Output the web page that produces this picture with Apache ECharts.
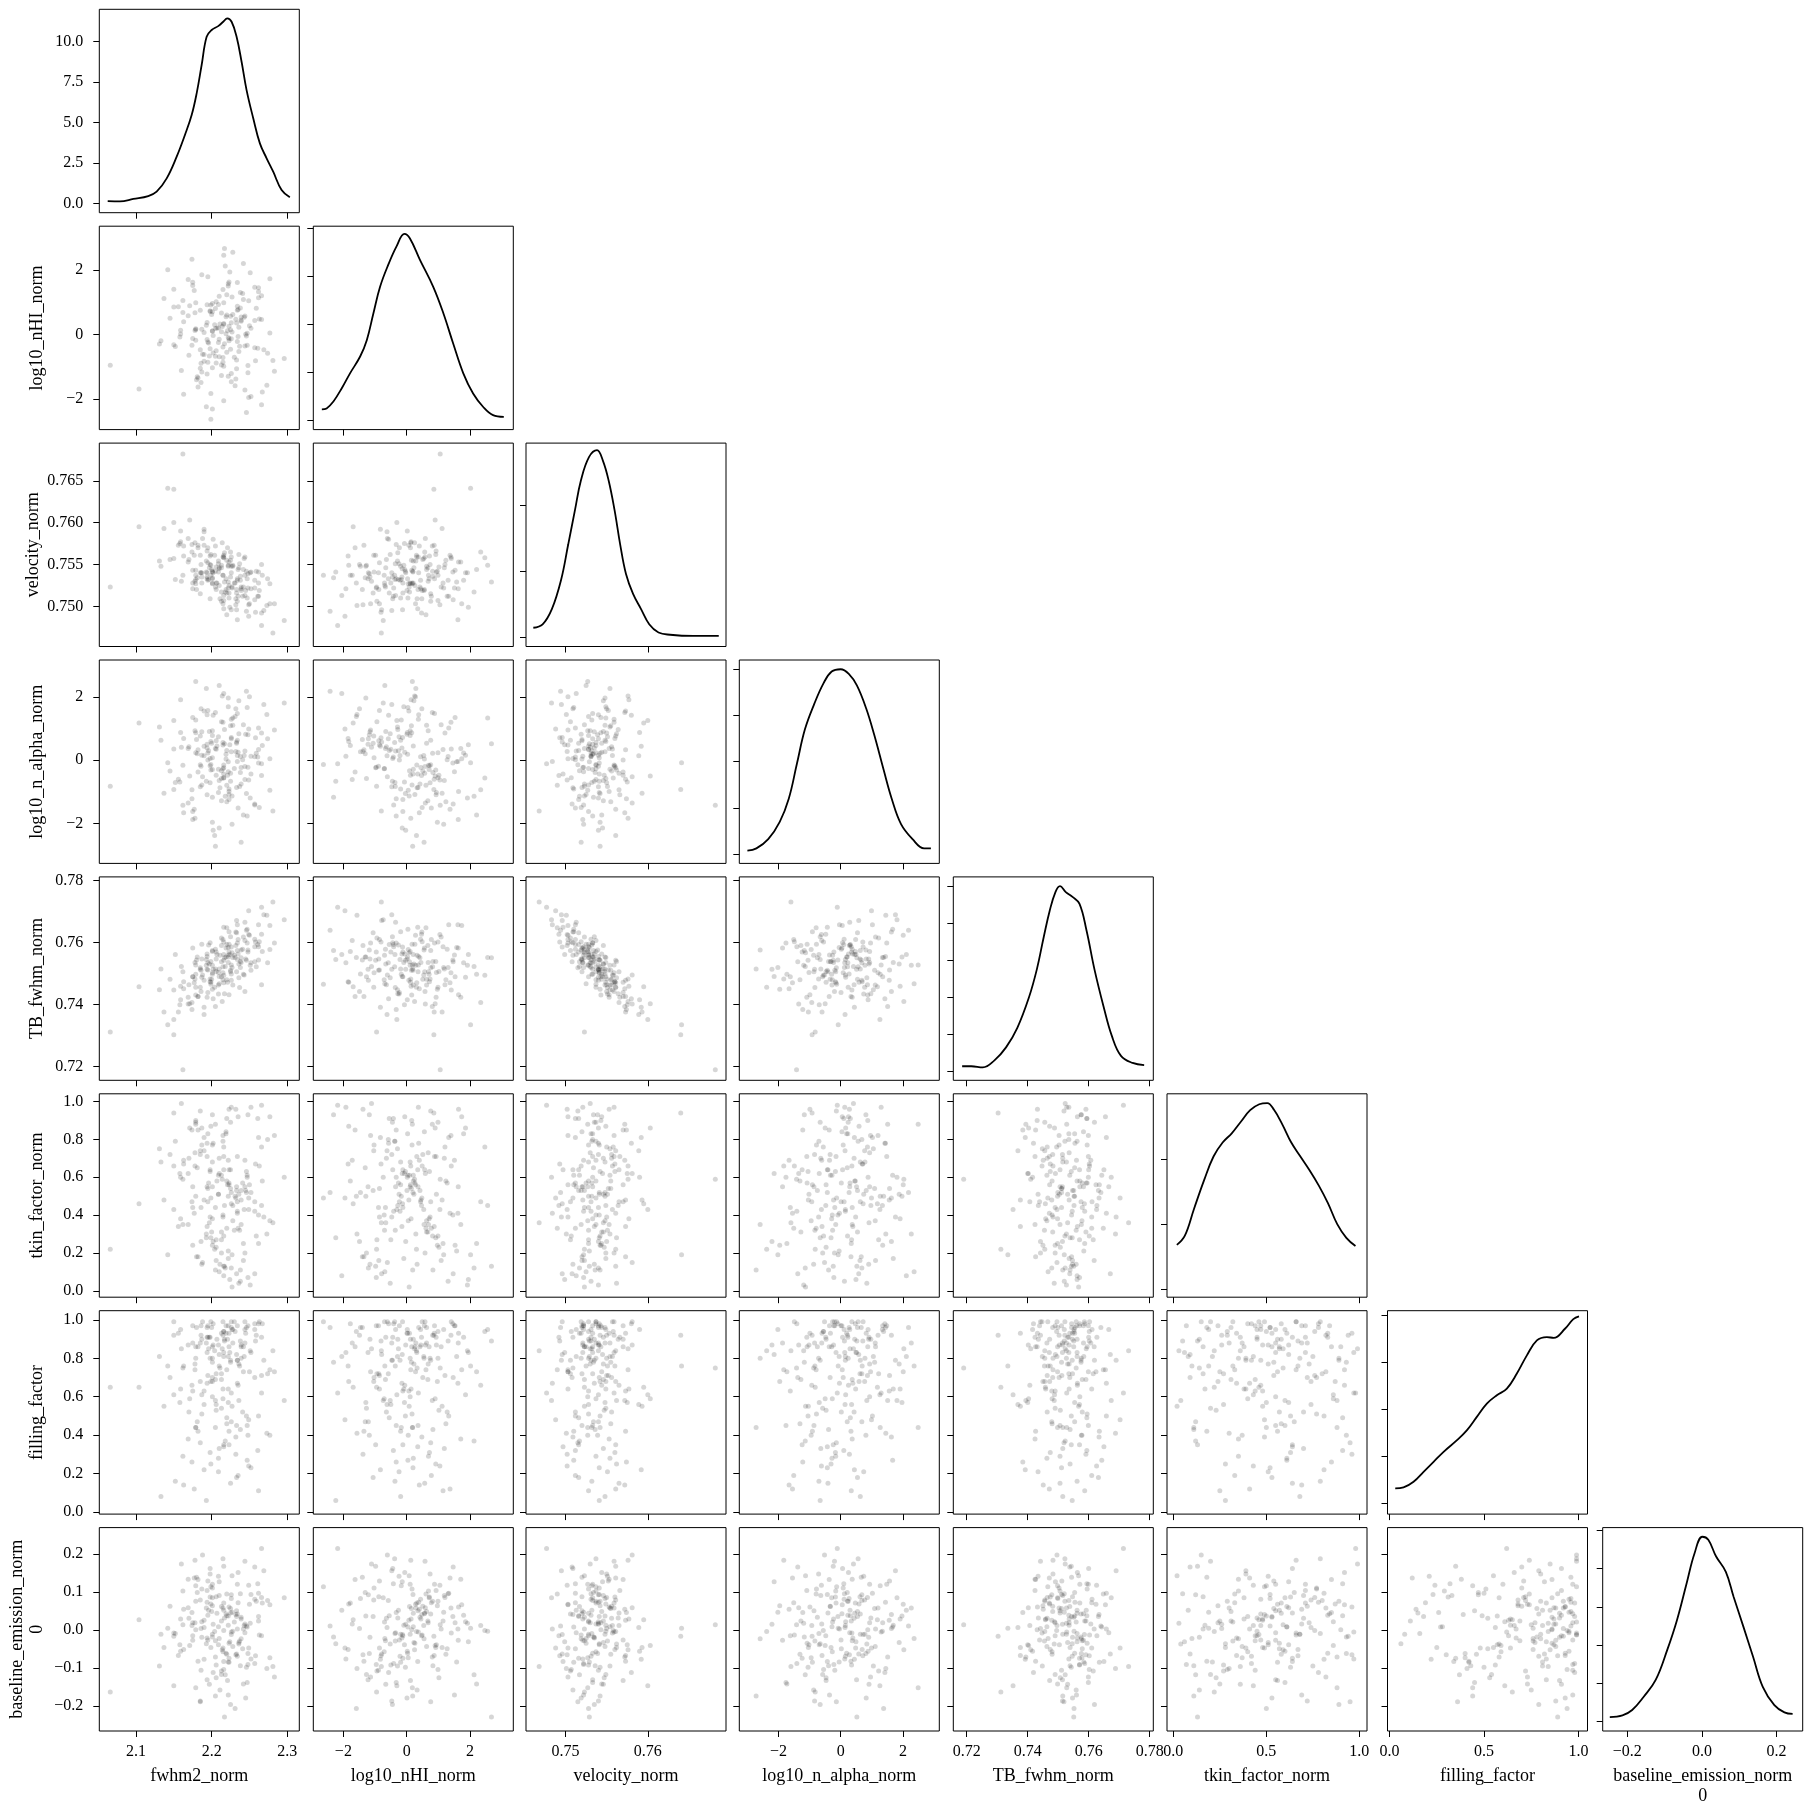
<!DOCTYPE html>
<html>
<head>
<meta charset="utf-8">
<title>corner</title>
<script src="https://cdn.jsdelivr.net/npm/echarts@6.0.0/dist/echarts.min.js"></script>
<style>
html, body { margin: 0; background: #fff; }
#main { width: 1811px; height: 1811px; }
</style>
</head>
<body>
<div id="main"></div>
<script>
// parameter names (bottom / left labels)
var names = ['fwhm2_norm', 'log10_nHI_norm', 'velocity_norm', 'log10_n_alpha_norm',
  'TB_fwhm_norm', 'tkin_factor_norm', 'filling_factor', 'baseline_emission_norm\n0'];

// posterior samples
var fwhm2 = [2.239,2.182,2.234,2.175,2.277,2.197,2.209,2.216,2.137,2.215, 2.213,2.225,2.175,2.226,2.219,2.174,2.269,2.185,2.267,2.204,
  2.213,2.236,2.249,2.131,2.213,2.226,2.179,2.142,2.258,2.177, 2.194,2.194,2.252,2.232,2.188,2.241,2.202,2.283,2.198,2.228,
  2.233,2.233,2.159,2.222,2.209,2.201,2.259,2.158,2.242,2.201, 2.257,2.187,2.216,2.214,2.220,2.133,2.231,2.201,2.220,2.221,
  2.178,2.213,2.257,2.174,2.224,2.195,2.277,2.150,2.266,2.193, 2.215,2.194,2.242,2.233,2.179,2.238,2.198,2.104,2.239,2.210,
  2.207,2.237,2.262,2.186,2.222,2.169,2.232,2.198,2.245,2.190, 2.222,2.179,2.263,2.199,2.199,2.217,2.211,2.296,2.216,2.160,
  2.190,2.248,2.169,2.223,2.274,2.206,2.246,2.163,2.234,2.150, 2.181,2.228,2.225,2.227,2.201,2.190,2.251,2.226,2.145,2.273,
  2.209,2.235,2.186,2.216,2.262,2.210,2.187,2.194,2.235,2.159, 2.206,2.220,2.219,2.150,2.244,2.162,2.236,2.223,2.206,2.210,
  2.266,2.185,2.218,2.196,2.205,2.230,2.178,2.249,2.238,2.152, 2.225,2.216,2.170,2.257,2.195,2.248,2.201,2.247,2.066,2.195,
  2.223,2.243,2.180,2.171,2.250,2.185,2.262,2.199,2.226,2.281, 2.200,2.247,2.179,2.187,2.252,2.234,2.202,2.227,2.163,2.239,
  2.205,2.215,2.223,2.244,2.201,2.222,2.156,2.261,2.162,2.217, 2.216,2.215,2.175,2.246,2.182,2.234,2.205,2.244,2.266,2.193];
var log10nHI = [0.42,-1.35,0.88,-0.12,1.74,-0.66,0.21,-2.05,1.12,-0.38, -0.94,0.57,1.63,-1.21,0.03,2.34,-0.47,0.76,-1.78,0.31,
  0.09,-0.52,1.05,-0.29,0.67,-1.46,0.18,2.02,-0.81,1.37, -0.15,0.93,-1.92,0.48,-0.61,1.28,-0.03,-1.14,0.72,2.56,
  0.36,-0.79,0.14,1.51,-0.24,-2.31,0.82,-0.07,1.09,-1.03, -0.41,1.86,-0.98,0.25,0.61,-0.19,-1.59,0.97,-0.55,0.12,
  0.68,-1.27,0.44,-0.33,1.95,-0.86,0.05,1.41,-2.18,0.29, -0.71,0.38,2.21,-1.06,0.16,0.83,-0.44,-1.69,0.55,1.19,
  0.21,-0.36,1.33,-0.89,-0.09,0.59,-1.38,0.74,0.01,-0.62, 1.58,-0.17,0.49,-1.83,0.92,-0.28,0.33,-0.74,2.47,-1.11,
  0.07,-0.96,1.71,0.26,-0.58,1.02,-2.42,0.40,-0.21,0.86, -1.31,0.63,-0.45,1.17,0.11,-0.83,1.92,-0.13,0.51,-1.57,
  0.94,-0.06,-1.49,0.35,1.46,-0.69,0.17,-1.22,0.78,0.02, -0.88,1.24,0.56,-0.31,-1.72,0.69,0.23,1.64,-0.50,-0.14,
  0.47,-1.04,2.13,-0.26,0.81,-0.70,0.13,-1.95,1.31,-0.37, 0.15,0.99,-0.64,1.47,-0.23,-1.18,0.71,0.04,-0.95,1.80,
  -0.12,0.54,-1.40,0.90,0.28,-0.47,1.15,-2.63,0.37,-0.80, 0.63,-0.33,0.99,-1.16,0.20,1.62,-0.57,0.08,-1.85,0.45,
  -0.67,1.40,-0.19,0.58,0.11,-1.29,0.87,-0.42,1.06,2.68, 0.32,-0.86,1.53,-0.04,-1.63,0.76,0.19,-0.35,1.21,-2.24];
var velocity = [0.7523,0.7573,0.7533,0.7528,0.7503,0.7546,0.7554,0.7513,0.7593,0.7537, 0.7506,0.7565,0.7521,0.7540,0.7533,0.7565,0.7495,0.7515,0.7537,0.7561,
  0.7517,0.7562,0.7502,0.7554,0.7546,0.7548,0.7527,0.7641,0.7493,0.7561, 0.7535,0.7566,0.7521,0.7509,0.7581,0.7512,0.7540,0.7503,0.7560,0.7549,
  0.7520,0.7496,0.7577,0.7522,0.7551,0.7534,0.7542,0.7575,0.7523,0.7541, 0.7522,0.7540,0.7561,0.7576,0.7490,0.7548,0.7528,0.7542,0.7516,0.7570,
  0.7530,0.7549,0.7531,0.7574,0.7499,0.7552,0.7527,0.7557,0.7477,0.7554, 0.7537,0.7540,0.7544,0.7516,0.7543,0.7536,0.7509,0.7595,0.7519,0.7546,
  0.7528,0.7551,0.7512,0.7540,0.7549,0.7581,0.7502,0.7550,0.7519,0.7589, 0.7529,0.7532,0.7519,0.7549,0.7562,0.7564,0.7509,0.7483,0.7558,0.7530,
  0.7573,0.7522,0.7553,0.7525,0.7533,0.7547,0.7494,0.7572,0.7531,0.7640, 0.7534,0.7548,0.7535,0.7522,0.7527,0.7592,0.7540,0.7496,0.7556,0.7501,
  0.7541,0.7544,0.7550,0.7497,0.7541,0.7525,0.7528,0.7533,0.7512,0.7590, 0.7520,0.7555,0.7520,0.7600,0.7537,0.7537,0.7546,0.7553,0.7528,0.7545,
  0.7492,0.7561,0.7517,0.7532,0.7572,0.7528,0.7576,0.7488,0.7531,0.7532, 0.7555,0.7507,0.7556,0.7508,0.7570,0.7539,0.7533,0.7510,0.7523,0.7531,
  0.7516,0.7557,0.7520,0.7603,0.7503,0.7540,0.7528,0.7537,0.7559,0.7468, 0.7544,0.7533,0.7537,0.7535,0.7541,0.7484,0.7580,0.7523,0.7560,0.7521,
  0.7523,0.7559,0.7510,0.7559,0.7528,0.7548,0.7573,0.7512,0.7682,0.7529, 0.7559,0.7503,0.7543,0.7542,0.7570,0.7506,0.7542,0.7513,0.7550,0.7541];
var nAlpha = [-0.75,0.33,1.48,-1.62,0.05,0.91,-0.28,2.11,-1.04,0.56, 1.22,-0.41,-1.87,0.68,0.19,-0.93,1.76,-0.14,0.47,-2.38,
  -0.33,0.84,-0.62,1.05,-1.28,0.27,2.49,-0.08,0.71,-1.55, 0.39,-1.09,0.13,1.63,-0.52,0.02,-2.21,0.96,-0.17,1.34,
  -0.86,0.58,1.91,-0.36,0.74,-1.17,0.22,-0.69,1.12,0.08, -1.41,0.16,-0.24,2.03,-0.79,0.63,1.38,-1.96,0.31,-0.47,
  0.93,-0.58,0.11,-1.22,0.49,1.57,-0.95,0.36,-0.11,2.27, -0.27,1.44,-1.73,0.54,0.87,-0.39,0.06,1.18,-2.59,-0.64,
  0.45,-0.83,1.02,-0.19,1.69,-1.35,0.28,-0.71,0.82,0.14, -0.05,1.27,-1.49,0.59,-0.31,0.97,-0.87,1.81,-0.56,0.41,
  1.56,-0.22,0.37,-1.08,0.68,-0.47,2.18,-1.66,0.15,-0.92, 0.21,1.11,-0.66,-2.02,0.93,0.44,-1.19,0.72,-0.34,1.45,
  -1.02,0.25,1.63,-0.43,-0.09,2.36,-0.78,0.51,-1.51,0.88, 0.62,-1.31,0.04,1.26,-0.61,-0.16,1.88,-0.99,0.35,-2.14,
  -0.48,0.77,-1.14,0.30,1.51,-0.26,-1.83,0.99,0.12,-0.70, 1.09,-0.55,0.43,-1.38,0.01,0.81,-0.29,1.67,-0.82,0.23,
  -1.24,0.15,0.66,-0.50,2.01,-0.84,0.34,-0.13,1.30,-1.60, 0.54,-1.76,0.24,0.90,-0.43,-0.04,1.42,-1.13,0.69,-0.23,
  0.37,1.20,-0.91,-0.20,0.78,1.97,-0.60,0.10,-1.42,0.52, -0.15,0.48,1.35,-1.05,-0.37,0.63,-2.72,0.29,0.86,-0.66];
var tbFwhm = [0.7551,0.7426,0.7599,0.7490,0.7655,0.7531,0.7463,0.7562,0.7376,0.7522, 0.7615,0.7506,0.7583,0.7479,0.7554,0.7407,0.7690,0.7519,0.7571,0.7456,
  0.7538,0.7487,0.7626,0.7448,0.7591,0.7499,0.7528,0.7335,0.7602,0.7471, 0.7563,0.7424,0.7535,0.7634,0.7496,0.7579,0.7514,0.7599,0.7474,0.7552,
  0.7506,0.7671,0.7459,0.7560,0.7434,0.7575,0.7522,0.7400,0.7618,0.7503, 0.7587,0.7488,0.7543,0.7410,0.7648,0.7515,0.7552,0.7450,0.7594,0.7472,
  0.7536,0.7490,0.7611,0.7384,0.7562,0.7512,0.7578,0.7447,0.7714,0.7527, 0.7480,0.7555,0.7498,0.7632,0.7431,0.7539,0.7600,0.7458,0.7576,0.7515,
  0.7562,0.7455,0.7658,0.7511,0.7536,0.7402,0.7591,0.7483,0.7547,0.7368, 0.7584,0.7498,0.7603,0.7472,0.7539,0.7435,0.7559,0.7674,0.7495,0.7523,
  0.7479,0.7570,0.7424,0.7595,0.7535,0.7507,0.7640,0.7451,0.7546,0.7303, 0.7554,0.7463,0.7619,0.7520,0.7571,0.7392,0.7527,0.7586,0.7482,0.7688,
  0.7504,0.7563,0.7442,0.7650,0.7544,0.7467,0.7595,0.7514,0.7610,0.7416, 0.7547,0.7480,0.7583,0.7352,0.7607,0.7506,0.7531,0.7432,0.7570,0.7491,
  0.7627,0.7456,0.7523,0.7592,0.7394,0.7559,0.7483,0.7703,0.7520,0.7562, 0.7511,0.7602,0.7464,0.7538,0.7439,0.7576,0.7498,0.7643,0.7312,0.7535,
  0.7570,0.7496,0.7544,0.7403,0.7624,0.7514,0.7587,0.7466,0.7528,0.7731, 0.7482,0.7599,0.7456,0.7547,0.7511,0.7658,0.7419,0.7567,0.7474,0.7536,
  0.7579,0.7503,0.7635,0.7442,0.7527,0.7554,0.7376,0.7594,0.7190,0.7551, 0.7471,0.7610,0.7490,0.7543,0.7426,0.7575,0.7515,0.7666,0.7464,0.7546];
var tkin = [0.53,0.18,0.71,0.44,0.92,0.36,0.61,0.08,0.48,0.79, 0.27,0.64,0.55,0.12,0.83,0.47,0.39,0.95,0.58,0.22,
  0.61,0.04,0.43,0.75,0.31,0.52,0.88,0.19,0.67,0.41, 0.34,0.71,0.97,0.49,0.15,0.57,0.26,0.82,0.63,0.45,
  0.55,0.09,0.38,0.69,0.51,0.93,0.29,0.62,0.16,0.77, 0.42,0.86,0.13,0.59,0.33,0.68,0.50,0.24,0.91,0.56,
  0.73,0.20,0.47,0.85,0.06,0.54,0.37,0.66,0.98,0.30, 0.40,0.78,0.25,0.53,0.90,0.11,0.64,0.46,0.35,0.70,
  0.58,0.32,0.81,0.44,0.17,0.62,0.96,0.39,0.53,0.74, 0.21,0.50,0.66,0.87,0.28,0.45,0.14,0.60,0.76,0.99,
  0.48,0.07,0.35,0.57,0.80,0.23,0.52,0.69,0.42,0.94, 0.65,0.37,0.89,0.19,0.55,0.81,0.03,0.46,0.72,0.30,
  0.51,0.92,0.26,0.64,0.40,0.10,0.77,0.55,0.33,0.60, 0.16,0.58,0.84,0.43,0.69,0.35,0.51,0.96,0.27,0.62,
  0.45,0.74,0.12,0.57,0.88,0.32,0.66,0.49,0.05,0.79, 0.54,0.29,0.70,0.09,0.47,0.93,0.38,0.61,0.22,0.83,
  0.64,0.43,0.18,0.86,0.56,0.72,0.25,0.49,0.97,0.36, 0.31,0.60,0.89,0.14,0.52,0.41,0.78,0.02,0.67,0.48,
  0.44,0.82,0.56,0.20,0.68,0.50,0.34,0.91,0.59,0.13, 0.71,0.39,0.24,0.63,0.85,0.47,0.11,0.55,0.76,0.28];
var filling = [0.86,0.42,0.97,0.63,0.74,0.91,0.28,0.81,0.55,0.99, 0.72,0.15,0.88,0.47,0.93,0.66,0.79,0.36,0.98,0.84,
  0.93,0.58,0.24,0.81,0.69,0.96,0.44,0.76,0.89,0.12, 0.67,0.91,0.83,0.39,0.99,0.52,0.87,0.73,0.31,0.95,
  0.45,0.82,0.64,0.97,0.21,0.78,0.92,0.57,0.86,0.70, 0.98,0.61,0.35,0.85,0.74,0.08,0.94,0.68,0.49,0.90,
  0.77,0.54,0.95,0.26,0.83,0.71,0.40,0.99,0.62,0.88, 0.59,0.96,0.73,0.18,0.86,0.43,0.91,0.65,0.80,0.33,
  0.90,0.76,0.50,0.97,0.64,0.87,0.30,0.80,0.93,0.56, 0.81,0.44,0.99,0.68,0.25,0.90,0.75,0.58,0.94,0.85,
  0.63,0.97,0.38,0.86,0.72,0.53,0.96,0.14,0.79,0.92, 0.47,0.88,0.79,0.95,0.60,0.22,0.84,0.99,0.70,0.41,
  0.87,0.66,0.92,0.34,0.98,0.76,0.51,0.83,0.19,0.95, 0.72,0.46,0.97,0.61,0.88,0.29,0.77,0.93,0.56,0.82,
  0.91,0.68,0.37,0.85,0.58,0.99,0.74,0.48,0.89,0.16, 0.78,0.94,0.52,0.70,0.97,0.40,0.86,0.27,0.65,0.91,
  0.35,0.81,0.96,0.59,0.73,0.88,0.11,0.99,0.62,0.84, 0.96,0.45,0.80,0.90,0.23,0.67,0.98,0.55,0.76,0.87,
  0.69,0.92,0.42,0.99,0.80,0.57,0.93,0.32,0.75,0.89, 0.83,0.64,0.97,0.50,0.86,0.79,0.44,0.95,0.71,0.06];
var baseline = [0.034,-0.082,0.121,-0.015,0.067,-0.143,0.009,0.052,-0.046,0.188, -0.108,0.045,-0.027,0.093,-0.061,0.012,0.156,-0.189,0.071,-0.004,
  0.062,-0.037,0.118,-0.095,0.024,0.083,-0.152,0.005,-0.068,0.137, -0.021,0.104,-0.076,0.041,0.198,-0.049,0.015,-0.124,0.087,-0.003,
  0.051,-0.063,0.029,-0.171,0.142,-0.018,0.076,-0.039,0.003,0.111, -0.088,0.022,0.168,-0.052,0.095,-0.011,-0.207,0.064,0.038,-0.133,
  0.019,-0.117,0.081,0.046,-0.031,0.129,-0.073,-0.008,0.215,0.058, -0.057,0.073,-0.142,0.036,0.001,-0.094,0.162,0.027,-0.023,0.091,
  0.044,-0.029,0.097,-0.106,0.013,0.059,-0.065,0.148,-0.179,0.007, -0.084,0.117,-0.013,0.069,-0.046,0.032,-0.158,0.085,-0.001,0.174,
  0.026,-0.091,0.134,-0.035,0.078,-0.126,0.011,0.055,-0.069,-0.016, 0.099,-0.043,-0.196,0.047,0.121,-0.077,0.018,-0.012,0.063,-0.101,
  -0.039,0.152,0.004,-0.083,0.036,-0.022,0.108,-0.131,0.072,-0.056, 0.088,-0.064,0.043,-0.147,0.016,0.103,-0.033,0.061,-0.092,0.127,
  -0.015,0.079,-0.118,0.052,-0.071,0.021,0.184,-0.047,0.096,-0.009, 0.057,-0.104,0.031,0.166,-0.026,-0.062,0.085,0.008,-0.163,0.039,
  -0.074,0.012,0.139,-0.041,0.068,-0.187,0.024,0.114,-0.005,-0.096, 0.049,-0.138,0.076,-0.019,0.094,0.003,-0.112,0.143,-0.051,0.029,
  -0.028,0.058,-0.085,0.181,-0.011,0.037,-0.067,0.122,0.014,-0.229, 0.071,-0.047,0.019,-0.098,0.133,0.042,-0.174,-0.007,0.086,-0.036];

// 1-D density curves on the diagonal, [x, density]
var kdeFwhm2 = [[2.0626,0.14],[2.0789,0.12],[2.0965,0.27],[2.1162,0.45],[2.1273,0.72],[2.1406,1.54],[2.1538,2.88],[2.1647,4.22],
  [2.1736,5.45],[2.1802,6.79],[2.1868,8.54],[2.1934,10.28],[2.2000,10.70],[2.2087,10.94],[2.2153,11.21],[2.2206,11.42],
  [2.2264,11.21],[2.2330,10.28],[2.2396,8.74],[2.2462,6.99],[2.2550,5.25],[2.2638,3.70],[2.2727,2.78],[2.2814,1.95],[2.2925,0.82],[2.3034,0.37]];
var kdeNHI = [[-2.68,0.023],[-2.53,0.025],[-2.32,0.039],[-2.05,0.067],[-1.79,0.098],[-1.47,0.133],[-1.26,0.167],[-1.05,0.223],
  [-0.84,0.278],[-0.58,0.324],[-0.32,0.362],[-0.07,0.388],[0.10,0.379],[0.42,0.334],[0.84,0.278],[1.16,0.223],[1.47,0.160],
  [1.79,0.098],[2.10,0.056],[2.42,0.028],[2.73,0.011],[3.07,0.0075]];
var kdeVelocity = [[0.74609,7.2],[0.74722,9.8],[0.74834,21.3],[0.74946,43.4],[0.75032,70],[0.75116,96.6],[0.75187,118.7],
  [0.75285,136.4],[0.75383,141.7],[0.75454,133.7],[0.75524,118.7],[0.75595,96.6],[0.75665,70],[0.75735,47.9],[0.75821,32.8],
  [0.75918,21.3],[0.76017,9.8],[0.76130,3.6],[0.76271,1.9],[0.76552,1.0],[0.76862,1.0]];
var kdeNAlpha = [[-3.00,0.0075],[-2.71,0.0125],[-2.33,0.0325],[-1.96,0.07],[-1.67,0.12],[-1.41,0.195],[-1.15,0.27],[-0.85,0.325],
  [-0.55,0.37],[-0.29,0.395],[0.00,0.40],[0.26,0.39],[0.52,0.365],[0.82,0.315],[1.08,0.2575],[1.38,0.1825],[1.64,0.12],
  [1.94,0.065],[2.31,0.0325],[2.68,0.0125],[2.90,0.0125]];
var kdeTB = [[0.7185,1.3],[0.7215,1.3],[0.7253,1.0],[0.7291,2.9],[0.7329,6.4],[0.7366,11.7],[0.7404,19.9],[0.7430,27.5],
  [0.7453,36.4],[0.7472,43.3],[0.7491,48.4],[0.7506,50.0],[0.7525,48.4],[0.7547,47.1],[0.7570,45.2],[0.7593,38.0],
  [0.7619,27.5],[0.7649,17.4],[0.7676,9.5],[0.7706,4.1],[0.7744,2.2],[0.7782,1.6]];
var kdeTkin = [[0.019,0.341],[0.062,0.412],[0.111,0.617],[0.166,0.840],[0.216,1.019],[0.265,1.126],[0.314,1.197],[0.363,1.286],
  [0.413,1.375],[0.462,1.420],[0.505,1.429],[0.542,1.375],[0.585,1.268],[0.634,1.126],[0.683,1.019],[0.733,0.912],
  [0.782,0.796],[0.831,0.662],[0.881,0.500],[0.930,0.395],[0.979,0.332]];
var kdeFilling = [[0.030,0.156],[0.074,0.167],[0.127,0.227],[0.180,0.333],[0.233,0.439],[0.286,0.546],[0.357,0.670],[0.410,0.777],
  [0.462,0.918],[0.515,1.060],[0.568,1.149],[0.621,1.220],[0.674,1.380],[0.727,1.574],[0.780,1.734],[0.833,1.769],
  [0.869,1.76],[0.930,1.86],[0.973,1.96],[1.003,1.99]];
var kdeBaseline = [[-0.247,0.105],[-0.213,0.15],[-0.187,0.29],[-0.156,0.64],[-0.124,1.08],[-0.093,1.87],[-0.067,2.65],[-0.041,3.62],
  [-0.020,4.40],[0.001,4.84],[0.017,4.76],[0.038,4.32],[0.064,3.92],[0.085,3.26],[0.111,2.48],[0.137,1.69],[0.163,0.90],
  [0.194,0.42],[0.221,0.23],[0.243,0.19]];

// axis extents and ticks
var ranges = [[2.0515,2.3159],[-2.95,3.37],[0.7452,0.7695],[-3.26,3.17],[0.7156,0.7812],[-0.034,1.041],[-0.011,1.048],[-0.266,0.270]];
var xTicks = [[2.1,2.2,2.3],[-2,0,2],[0.75,0.76],[-2,0,2],[0.72,0.74,0.76,0.78],[0,0.5,1],[0,0.5,1],[-0.2,0,0.2]];
var xTickText = [['2.1','2.2','2.3'],['\u22122','0','2'],['0.75','0.76'],['\u22122','0','2'],['0.72','0.74','0.76','0.78'],
  ['0.0','0.5','1.0'],['0.0','0.5','1.0'],['\u22120.2','0.0','0.2']];
var yTicks = [[],[-2,0,2],[0.75,0.755,0.76,0.765],[-2,0,2],[0.72,0.74,0.76,0.78],[0,0.2,0.4,0.6,0.8,1],[0,0.2,0.4,0.6,0.8,1],[-0.2,-0.1,0,0.1,0.2]];
var yTickText = [[],['\u22122','0','2'],['0.750','0.755','0.760','0.765'],['\u22122','0','2'],['0.72','0.74','0.76','0.78'],
  ['0.0','0.2','0.4','0.6','0.8','1.0'],['0.0','0.2','0.4','0.6','0.8','1.0'],['\u22120.2','\u22120.1','0.0','0.1','0.2']];
var kdeRanges = [[-0.58,11.98],[-0.019,0.404],[-7,147],[-0.02,0.42],[-2.5,52.5],[-0.06,1.5],[-0.118,2.05],[-0.26,5.08]];
var kdeTicks = [[0,2.5,5,7.5,10],[0,0.1,0.2,0.3,0.4],[0,50,100],[0,0.1,0.2,0.3,0.4],[0,10,20,30,40,50],[0,0.5,1],[0,0.5,1,1.5,2],[0,1,2,3,4,5]];
var kdeTickText0 = ['0.0','2.5','5.0','7.5','10.0'];

var samples = [fwhm2, log10nHI, velocity, nAlpha, tbFwhm, tkin, filling, baseline];
var kdes = [kdeFwhm2, kdeNHI, kdeVelocity, kdeNAlpha, kdeTB, kdeTkin, kdeFilling, kdeBaseline];

var colLeft = [99.3, 313.3, 526, 739.3, 953.3, 1167, 1387.5, 1602.7];
var W = 200, H = 203.4;
function rowTop(r) { return 9.3 + r * 216.9; }

var FONT = 'Liberation Serif';
function fmt(ticks, text) {
  return function (v) {
    for (var i = 0; i < ticks.length; i++) {
      if (Math.abs(v - ticks[i]) < 1e-9) return text[i];
    }
    return '';
  };
}

var grids = [], xAxes = [], yAxes = [], series = [];
for (var r = 0; r < 8; r++) {
  for (var c = 0; c <= r; c++) {
    var idx = grids.length;
    var diag = r === c;
    var bottom = r === 7;
    var first = c === 0;
    grids.push({
      left: colLeft[c], top: rowTop(r), width: W, height: H,
      show: true, borderColor: '#000', borderWidth: 1, backgroundColor: 'transparent',
      containLabel: false, outerBoundsMode: 'none'
    });
    xAxes.push({
      gridIndex: idx, type: 'value', position: 'bottom', min: ranges[c][0], max: ranges[c][1],
      axisLine: { show: false, onZero: false }, splitLine: { show: false },
      axisTick: { show: true, customValues: xTicks[c], length: 6, lineStyle: { color: '#000', width: 1 } },
      axisLabel: { show: bottom, customValues: xTicks[c], formatter: fmt(xTicks[c], xTickText[c]),
        margin: 13, fontFamily: FONT, fontSize: 16, color: '#000' },
      name: bottom ? names[c] : '', nameLocation: 'middle', nameGap: 35,
      nameTextStyle: { fontFamily: FONT, fontSize: 18, color: '#000', lineHeight: 20 }
    });
    var yt = diag ? kdeTicks[r] : yTicks[r];
    var ytext = diag ? kdeTickText0 : yTickText[r];
    var ymin = diag ? kdeRanges[r][0] : ranges[r][0];
    var ymax = diag ? kdeRanges[r][1] : ranges[r][1];
    var showYLab = first && (!diag || r === 0);
    yAxes.push({
      gridIndex: idx, type: 'value', position: 'left', min: ymin, max: ymax,
      axisLine: { show: false, onZero: false }, splitLine: { show: false },
      axisTick: { show: true, customValues: yt, length: 6, lineStyle: { color: '#000', width: 1 } },
      axisLabel: { show: showYLab, customValues: yt, formatter: fmt(yt, ytext),
        margin: 16, fontFamily: FONT, fontSize: 16, color: '#000' },
      name: (first && r > 0) ? names[r] : '', nameLocation: 'middle', nameGap: 52, nameRotate: 90,
      nameTextStyle: { fontFamily: FONT, fontSize: 18, color: '#000', lineHeight: 20 }
    });
    if (diag) {
      series.push({
        type: 'line', xAxisIndex: idx, yAxisIndex: idx, data: kdes[r],
        showSymbol: false, smooth: 0.4, silent: true,
        lineStyle: { color: '#000', width: 1.8 }
      });
    } else {
      var pts = [];
      for (var k = 0; k < samples[c].length; k++) pts.push([samples[c][k], samples[r][k]]);
      series.push({
        type: 'scatter', xAxisIndex: idx, yAxisIndex: idx, data: pts,
        symbol: 'circle', symbolSize: 5, silent: true,
        itemStyle: { color: 'rgba(0,0,0,0.2)' }
      });
    }
  }
}

var chart = echarts.init(document.getElementById('main'), null, { renderer: 'canvas' });
chart.setOption({
  backgroundColor: '#fff',
  animation: false,
  textStyle: { fontFamily: FONT },
  grid: grids,
  xAxis: xAxes,
  yAxis: yAxes,
  series: series
});
</script>
</body>
</html>
